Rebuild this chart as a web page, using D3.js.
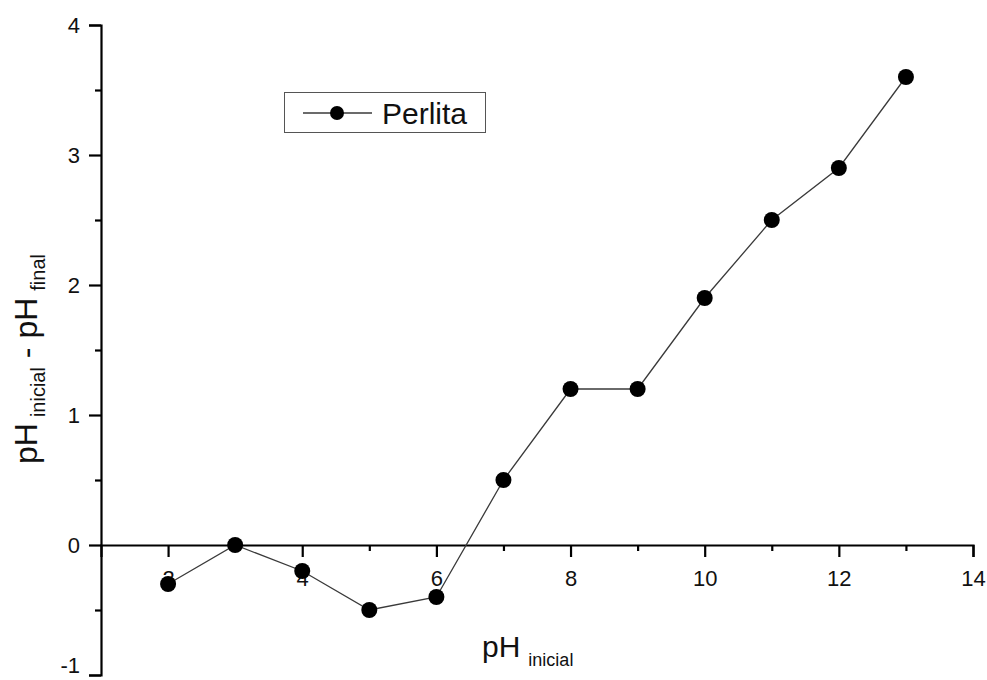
<!DOCTYPE html>
<html>
<head>
<meta charset="utf-8">
<script src="https://cdn.jsdelivr.net/npm/d3@7"></script>
<style>
  html, body { margin: 0; padding: 0; background: #fff; }
  svg { display: block; font-family: Arial, "Liberation Sans", sans-serif; }
</style>
</head>
<body>
<svg id="chart" width="987" height="680"></svg>
<script>
// pH drift measurements for perlite
const phInicial = [2, 3, 4, 5, 6, 7, 8, 9, 10, 11, 12, 13];
const deltaPH   = [-0.3, 0, -0.2, -0.5, -0.4, 0.5, 1.2, 1.2, 1.9, 2.5, 2.9, 3.6];

const xMajorTicks = [2, 4, 6, 8, 10, 12, 14];
const xMinorTicks = [3, 5, 7, 9, 11, 13];
const yMajorTicks = [-1, 0, 1, 2, 3, 4];
const yMinorTicks = [-0.5, 0.5, 1.5, 2.5, 3.5];

const seriesName = "Perlita";

const svg = d3.select("#chart");

const x = d3.scaleLinear().domain([1, 14]).range([101, 973]);
const y = d3.scaleLinear().domain([-1, 4]).range([675, 25]);

const axisColor = "#000";
const fontStack = "Arial, 'Liberation Sans', sans-serif";
const plainNumber = d => String(d);   // hyphen-minus, as in the printed figure

// Y axis: major ticks with labels, minor ticks between
const gy = svg.append("g").attr("transform", `translate(${x(1)},0)`);
gy.call(d3.axisLeft(y).tickValues(yMajorTicks).tickSize(12).tickPadding(9)
  .tickFormat(plainNumber));
gy.append("g").call(d3.axisLeft(y).tickValues(yMinorTicks).tickSize(6).tickFormat(""))
  .select(".domain").remove();
gy.selectAll("path.domain").attr("stroke", axisColor).attr("stroke-width", 2.2);
gy.selectAll(".tick line").attr("stroke", axisColor).attr("stroke-width", 2.2);
gy.selectAll(".tick text").attr("font-size", 22).attr("fill", "#111")
  .attr("font-family", fontStack);
// keep the lowest label inside the frame
gy.selectAll(".tick text").filter(d => d === -1).attr("dy", "-0.12em");

// X axis drawn at y = 0
const gx = svg.append("g").attr("transform", `translate(0,${y(0)})`);
gx.call(d3.axisBottom(x).tickValues(xMajorTicks).tickSize(12).tickPadding(13)
  .tickFormat(plainNumber));
gx.append("g").call(d3.axisBottom(x).tickValues(xMinorTicks).tickSize(6).tickFormat(""))
  .select(".domain").remove();
gx.selectAll("path.domain").attr("stroke", axisColor).attr("stroke-width", 2.2);
gx.selectAll(".tick line").attr("stroke", axisColor).attr("stroke-width", 2.2);
gx.selectAll(".tick text").attr("font-size", 22).attr("fill", "#111")
  .attr("font-family", fontStack);

// Series line and markers
const points = phInicial.map((v, i) => [v, deltaPH[i]]);
const line = d3.line().x(d => x(d[0])).y(d => y(d[1]));

svg.append("path")
  .datum(points)
  .attr("fill", "none")
  .attr("stroke", "#3a3a3a")
  .attr("stroke-width", 1.3)
  .attr("d", line);

svg.append("g").selectAll("circle")
  .data(points)
  .join("circle")
  .attr("cx", d => x(d[0]))
  .attr("cy", d => y(d[1]))
  .attr("r", 8)
  .attr("fill", "#000");

// Axis titles with subscripts
const xTitle = svg.append("text")
  .attr("x", 482).attr("y", 657)
  .attr("font-size", 30).attr("fill", "#111");
xTitle.append("tspan").text("pH");
xTitle.append("tspan").attr("font-size", 18).attr("dx", 8).attr("dy", 9).text("inicial");

const yTitle = svg.append("text")
  .attr("transform", "translate(37,359) rotate(-90)")
  .attr("text-anchor", "middle")
  .attr("font-size", 32).attr("fill", "#111");
yTitle.append("tspan").text("pH");
yTitle.append("tspan").attr("font-size", 20).attr("dx", 6).attr("dy", 8).text("inicial");
yTitle.append("tspan").attr("dy", -8).text(" - pH");
yTitle.append("tspan").attr("font-size", 20).attr("dx", 7).attr("dy", 8).text("final");

// Legend
const legend = svg.append("g");
legend.append("rect")
  .attr("x", 284.5).attr("y", 92.5).attr("width", 201).attr("height", 40)
  .attr("fill", "#fff").attr("stroke", "#555").attr("stroke-width", 1);
legend.append("line")
  .attr("x1", 303).attr("x2", 372).attr("y1", 113).attr("y2", 113)
  .attr("stroke", "#3a3a3a").attr("stroke-width", 1.3);
legend.append("circle")
  .attr("cx", 337).attr("cy", 113).attr("r", 7).attr("fill", "#000");
legend.append("text")
  .attr("x", 382).attr("y", 124)
  .attr("font-size", 30).attr("fill", "#111")
  .text(seriesName);
</script>
</body>
</html>
